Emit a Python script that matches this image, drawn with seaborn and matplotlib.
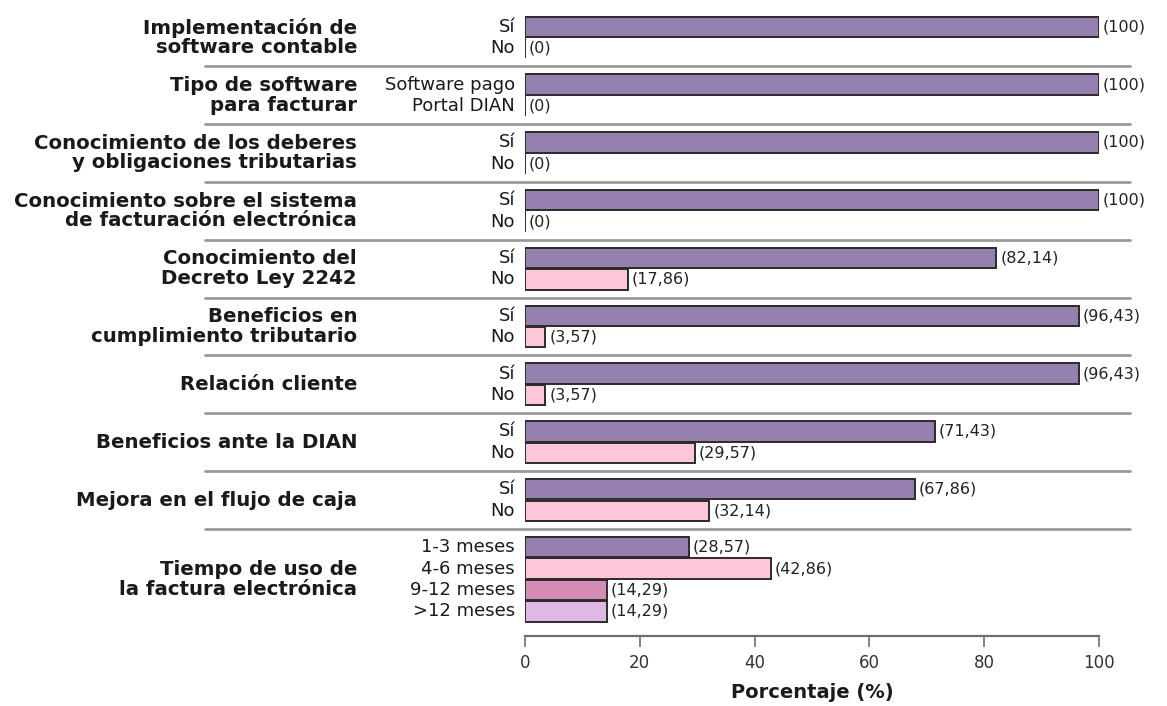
import numpy as np
import pandas as pd
import matplotlib
matplotlib.use("Agg")
import matplotlib.pyplot as plt
import matplotlib.transforms as mtransforms
import seaborn as sns

# --- data ---
group_titles = [
    "Implementación de\nsoftware contable",
    "Tipo de software\npara facturar",
    "Conocimiento de los deberes\ny obligaciones tributarias",
    "Conocimiento sobre el sistema\nde facturación electrónica",
    "Conocimiento del\nDecreto Ley 2242",
    "Beneficios en\ncumplimiento tributario",
    "Relación cliente",
    "Beneficios ante la DIAN",
    "Mejora en el flujo de caja",
    "Tiempo de uso de\nla factura electrónica",
]
answer_labels = [
    ["Sí", "No"],
    ["Software pago", "Portal DIAN"],
    ["Sí", "No"],
    ["Sí", "No"],
    ["Sí", "No"],
    ["Sí", "No"],
    ["Sí", "No"],
    ["Sí", "No"],
    ["Sí", "No"],
    ["1-3 meses", "4-6 meses", "9-12 meses", ">12 meses"],
]
percentages = [
    [100, 0],
    [100, 0],
    [100, 0],
    [100, 0],
    [82.14, 17.86],
    [96.43, 3.57],
    [96.43, 3.57],
    [71.43, 29.57],
    [67.86, 32.14],
    [28.57, 42.86, 14.29, 14.29],
]
bar_colors = ["#9580AF", "#FFC6D8", "#D58DB8", "#DFB9E3"]

GROUP_GAP = 0.7

# build long table with row positions (groups separated by a gap)
rows = []
pos = 0.0
group_centers, separators = [], []
for g, (title, labs, vals) in enumerate(zip(group_titles, answer_labels, percentages)):
    start = pos
    for i, (lab, v) in enumerate(zip(labs, vals)):
        rows.append({"group": g, "answer": lab, "pct": v, "pos": pos, "shade": str(i)})
        pos += 1
    group_centers.append((start + pos - 1) / 2)
    if g < len(group_titles) - 1:
        separators.append(pos - 0.5 + GROUP_GAP / 2)
    pos += GROUP_GAP
df = pd.DataFrame(rows)

sns.set_style("white")
plt.rcParams["font.family"] = ["DejaVu Sans"]

fig = plt.figure(figsize=(11.67, 7.06), dpi=100)
ax = fig.add_axes([525 / 1167, 1 - 636 / 706, 574 / 1167, 620 / 706])

palette = {str(i): c for i, c in enumerate(bar_colors)}
sns.barplot(data=df, x="pct", y="pos", hue="shade", palette=palette, orient="h",
            native_scale=True, width=0.95, dodge=False, legend=False,
            edgecolor="#2b2b2b", linewidth=1.4, saturation=1, ax=ax)

ax.set_xlim(0, 100)
ax.set_ylim(df["pos"].max() + 1.15, -0.5)

# value labels
for _, r in df.iterrows():
    txt = "(" + f"{r['pct']:g}".replace(".", ",") + ")"
    ax.text(r["pct"] + 0.7, r["pos"], txt, va="center", ha="left",
            fontsize=11.5, color="#222222")

# answer labels next to the axis
trans_lab = mtransforms.blended_transform_factory(fig.transFigure, ax.transData)
for _, r in df.iterrows():
    ax.text(515 / 1167, r["pos"], r["answer"], transform=trans_lab,
            ha="right", va="center", fontsize=13, color="#1a1a1a")

# group titles
for title, yc in zip(group_titles, group_centers):
    ax.text(357 / 1167, yc, title, transform=trans_lab, ha="right", va="center",
            fontsize=14.2, fontweight="bold", color="#1a1a1a", linespacing=1.05)

# separator lines between groups
for ys in separators:
    ax.plot([205 / 1167, 1130 / 1167], [ys, ys], transform=trans_lab,
            color="#9a9a9a", lw=2, clip_on=False)

# axes styling
for s in ["left", "right", "top"]:
    ax.spines[s].set_visible(False)
ax.spines["bottom"].set_color("#6e6e6e")
ax.spines["bottom"].set_linewidth(1.6)
ax.set_yticks([])
ax.set_ylabel("")
ax.set_xticks([0, 20, 40, 60, 80, 100])
ax.tick_params(axis="x", bottom=True, direction="out", length=8, width=1.2,
               color="#6e6e6e", labelsize=12, labelcolor="#333333", pad=5)
ax.set_xlabel("Porcentaje (%)", fontsize=14, fontweight="bold", color="#1a1a1a",
              labelpad=8)

fig.savefig("out.png", dpi=100, facecolor="white")
